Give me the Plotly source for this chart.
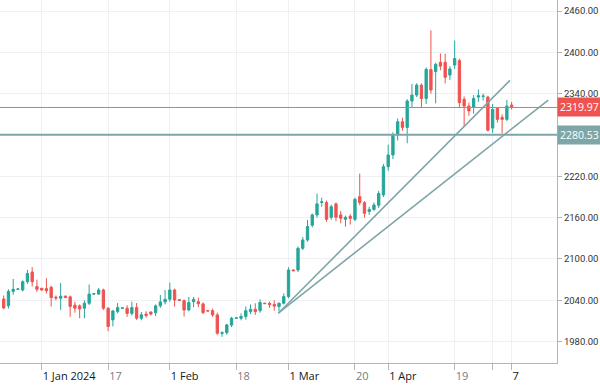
import plotly.graph_objects as go

# ---- categories (trading sessions) ----
dec_days = [20, 21, 22, 24, 26, 27, 28, 29]
jan_days = [1, 2, 3, 4, 5, 7, 8, 9, 10, 11, 12, 14, 15, 16, 17, 18, 19, 21, 22, 23, 24, 25, 26, 28, 29, 30, 31]
feb_days = [1, 2, 4, 5, 6, 7, 8, 9, 11, 12, 13, 14, 15, 16, 18, 19, 20, 21, 22, 23, 25, 26, 27, 28, 29]
mar_days = [1, 3, 4, 5, 6, 7, 8, 11, 12, 13, 14, 15, 18, 19, 20, 21, 22, 25, 26, 27, 28]
apr_days = [1, 2, 3, 4, 5, 8, 9, 10, 11, 12, 15, 16, 17, 18, 19, 22, 23, 24, 25, 26, 29, 30]
may_days = [1, 2, 3, 6, 7]

dates = ([f"2023-12-{d:02d}" for d in dec_days] + [f"2024-01-{d:02d}" for d in jan_days] +
         [f"2024-02-{d:02d}" for d in feb_days] + [f"2024-03-{d:02d}" for d in mar_days] +
         [f"2024-04-{d:02d}" for d in apr_days] + [f"2024-05-{d:02d}" for d in may_days])

# ---- OHLC values ----
opens = [2042, 2032, 2053, 2056, 2055, 2067, 2081, 2060, 2057.5, 2057,
         2059, 2044.5, 2043, 2046, 2045, 2033, 2032, 2028.5, 2035.7, 2049,
         2049, 2055, 2028.5, 2011.6, 2023.6, 2028.5, 2028.5, 2021, 2029.5, 2014,
         2020, 2023, 2022, 2032, 2037.7, 2041.5, 2055, 2041, 2039.6, 2026,
         2038, 2038, 2034.8, 2025, 2025, 2018.8, 1992, 1993, 2004, 2014,
         2014, 2016.5, 2023.6, 2027, 2025, 2035.7, 2035.7, 2034, 2031, 2035.7,
         2045.4, 2084, 2084, 2115.5, 2127.6, 2149, 2164, 2182, 2182, 2160.5,
         2180, 2164, 2157.6, 2162, 2157.6, 2190.5, 2181.8, 2169, 2172, 2178,
         2193, 2234, 2251, 2280, 2299.3, 2291, 2329.3, 2338, 2352.5, 2333,
         2375, 2372, 2385.5, 2385.5, 2367, 2381.6, 2388, 2331.8, 2322, 2320,
         2335, 2336, 2335, 2290, 2318.7, 2305.6, 2302.7, 2323.5]
highs = [2047, 2056, 2071, 2057, 2069, 2084, 2088, 2070, 2058, 2072,
         2061, 2047, 2065, 2047, 2047, 2038, 2034, 2040, 2063, 2050,
         2058, 2057, 2030, 2026, 2036, 2030, 2033, 2038, 2036, 2023,
         2024, 2024, 2034, 2047.8, 2055, 2065.7, 2057, 2042, 2041, 2045,
         2045, 2044, 2037, 2026, 2028, 2022, 1995, 2006, 2016, 2015,
         2021, 2031, 2034, 2035.7, 2041.5, 2036.5, 2038, 2040, 2037, 2050,
         2088, 2085, 2118, 2132, 2156.7, 2166, 2195, 2189, 2185, 2179,
         2182, 2170, 2163, 2165, 2189, 2224, 2184, 2176, 2182, 2199,
         2238, 2266, 2284, 2304, 2305, 2332, 2354, 2355, 2355, 2378,
         2432, 2385, 2398.5, 2398, 2380, 2417, 2391, 2336, 2327, 2338,
         2346, 2340, 2337, 2325, 2320, 2310, 2331, 2328]
lows = [2027, 2028, 2048, 2055, 2053, 2064, 2060, 2052, 2054, 2050,
        2031, 2040, 2026, 2043, 2016, 2022, 2014, 2014, 2033, 2048,
        2048, 2026, 1995, 2002, 2021, 2028, 2016, 2018, 2011.6, 2011,
        2015, 2018, 2017, 2029, 2034, 2038, 2031, 2039, 2016.4, 2024,
        2030, 2030, 2020, 2024, 2016, 1990, 1987, 1990, 2001, 2013,
        2011, 2012, 2020, 2018.8, 2022, 2035, 2029, 2025, 2024, 2034,
        2043, 2082, 2081, 2113, 2125, 2146, 2160, 2176, 2154, 2157,
        2155, 2152, 2147, 2150, 2155, 2178, 2160, 2164, 2170, 2174,
        2190, 2228, 2245, 2272, 2286, 2268, 2320, 2335, 2319, 2325,
        2340, 2326, 2374, 2355, 2360, 2376, 2320, 2292, 2308, 2311,
        2328, 2330, 2285, 2283, 2298, 2282, 2300, 2317]
closes = [2029, 2053, 2056, 2056.5, 2067, 2079, 2067, 2056, 2055, 2054,
          2044, 2043.5, 2046, 2044, 2031, 2028.5, 2027.5, 2035.7, 2049, 2049.5,
          2055, 2028.5, 2002, 2024.6, 2029.5, 2029, 2021, 2029.5, 2014, 2019,
          2018, 2020, 2032, 2037.7, 2041.5, 2055, 2040.5, 2040, 2026, 2036.7,
          2041.5, 2035, 2022.2, 2024.5, 2018.8, 1992.2, 1993, 2004.3, 2014, 2014.5,
          2016.5, 2025, 2027, 2023.6, 2036.7, 2035.2, 2033.8, 2031.5, 2035.7, 2045.4,
          2084, 2083, 2115.5, 2127.6, 2147, 2164, 2180, 2183, 2157.6, 2176,
          2160.5, 2159, 2160.5, 2159, 2186.6, 2181.8, 2166.3, 2172, 2178.4, 2195,
          2234, 2251, 2280, 2299.3, 2291, 2329.3, 2338, 2352.5, 2333, 2375.3,
          2345.3, 2382.6, 2380, 2363.7, 2376, 2391, 2327, 2322, 2315, 2333,
          2337, 2336.5, 2287, 2317, 2302.7, 2302.7, 2322, 2319.97]

# ---- axis ticks ----
x_tick_dates = ["2024-01-01", "2024-01-17", "2024-02-01", "2024-02-18", "2024-03-01",
                "2024-03-20", "2024-04-01", "2024-04-19", "2024-05-01", "2024-05-07"]
x_tick_text = ["1 Jan 2024", "17", "1 Feb", "18", "1 Mar", "20", "1 Apr", "19", "", "7"]
x_tick_major = [True, False, True, False, True, False, True, False, False, True]
y_ticks = [1980, 2040, 2100, 2160, 2220, 2340, 2400, 2460]

# ---- price levels and drawn trend lines (bar index, price) ----
last_price = 2319.97
support_price = 2280.53
trend_upper = [(57.85, 2021.3), (106.66, 2359.3)]
trend_lower = [(57.85, 2021.3), (114.72, 2330.8)]

UP = "#26a69a"
DOWN = "#ef5350"
TEAL = "#7ea6a8"

fig = go.Figure()
fig.add_trace(go.Candlestick(
    x=dates, open=opens, high=highs, low=lows, close=closes,
    increasing=dict(line=dict(color=UP, width=1), fillcolor=UP),
    decreasing=dict(line=dict(color=DOWN, width=1), fillcolor=DOWN),
    whiskerwidth=0, showlegend=False, hoverinfo="skip"))

shapes = []
for (x0, y0), (x1, y1) in (trend_upper, trend_lower):
    shapes.append(dict(type="line", xref="x", yref="y", x0=x0, y0=y0, x1=x1, y1=y1,
                       line=dict(color=TEAL, width=1.6)))
shapes.append(dict(type="line", xref="paper", yref="y", x0=0, x1=1,
                   y0=last_price, y1=last_price, line=dict(color="#e8705f", width=1)))
shapes.append(dict(type="line", xref="paper", yref="y", x0=0, x1=1,
                   y0=support_price, y1=support_price, line=dict(color=TEAL, width=2)))

annotations = []
for val, col in ((last_price, DOWN), (support_price, TEAL)):
    annotations.append(dict(xref="paper", yref="y", x=1, y=val, xanchor="left", yanchor="middle",
                            text=f"{val:.2f}", showarrow=False, bgcolor=col, width=39,
                            align="left", borderpad=2,
                            font=dict(color="white", size=10.5, family="Open Sans")))

ticktext = [f"<span style='color:#131722'>{t}</span>" if m else f"<span style='color:#787b86'>{t}</span>"
            for t, m in zip(x_tick_text, x_tick_major)]

fig.update_layout(
    width=600, height=386,
    margin=dict(l=0, r=43, t=0, b=23),
    paper_bgcolor="white", plot_bgcolor="white",
    font=dict(family="Open Sans", size=11, color="#131722"),
    shapes=shapes, annotations=annotations,
    xaxis=dict(type="category", range=[-0.78, 116.56], rangeslider=dict(visible=False),
               tickmode="array", tickvals=x_tick_dates, ticktext=ticktext,
               ticklabelposition="outside right", ticks="outside", ticklen=6,
               tickcolor="#b2b5be", showgrid=True, gridcolor="#eef0f4", gridwidth=1,
               showline=True, linecolor="#b2b5be", linewidth=1, zeroline=False,
               ticklabelstandoff=3, automargin=False, fixedrange=True),
    yaxis=dict(side="right", range=[1949, 2476], tickmode="array", tickvals=y_ticks,
               ticktext=[f"{v:.2f}" for v in y_ticks], ticks="outside", ticklen=4,
               tickcolor="#b2b5be", showgrid=True, gridcolor="#eef0f4", gridwidth=1,
               showline=True, linecolor="#b2b5be", linewidth=1, zeroline=False,
               tickfont=dict(color="#333333", size=9.5, family="Roboto"),
               automargin=False, fixedrange=True),
    hovermode=False,
)

fig.write_html("out.html", config={"displayModeBar": False, "staticPlot": True},
               post_script="document.body.style.margin='0';document.body.style.overflow='hidden';")
